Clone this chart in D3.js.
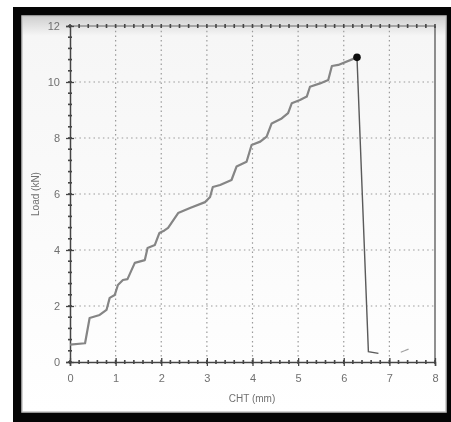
<!DOCTYPE html>
<html>
<head>
<meta charset="utf-8">
<script src="https://cdn.jsdelivr.net/npm/d3@7"></script>
<style>
  body { margin: 0; background: #fff; }
  svg { display: block; }
  text { font-family: "Liberation Sans Narrow", "Liberation Sans", Arial, sans-serif; fill: #707070; }
</style>
</head>
<body>
<div id="chart"></div>
<script>
// CHT (mm) vs Load (kN)
const cht  = [0, 0.33, 0.43, 0.65, 0.80, 0.87, 0.98, 1.05, 1.16, 1.26, 1.42, 1.64, 1.70, 1.86, 1.96, 2.07,
              2.15, 2.37, 2.63, 2.96, 3.07, 3.13, 3.29, 3.54, 3.65, 3.87, 3.98, 4.17, 4.31, 4.42, 4.64, 4.78,
              4.86, 5.04, 5.19, 5.26, 5.48, 5.66, 5.74, 5.88, 6.29];
const load = [0.62, 0.67, 1.57, 1.68, 1.86, 2.29, 2.39, 2.75, 2.93, 2.96, 3.54, 3.64, 4.07, 4.18, 4.61, 4.70,
              4.79, 5.32, 5.50, 5.71, 5.89, 6.25, 6.32, 6.50, 6.98, 7.15, 7.75, 7.87, 8.05, 8.52, 8.70, 8.89,
              9.24, 9.36, 9.48, 9.83, 9.95, 10.07, 10.57, 10.61, 10.88];
// failure drop after peak
const dropCht  = [6.29, 6.54, 6.76];
const dropLoad = [10.88, 0.37, 0.31];
// small stray trace near the bottom right
const tailCht  = [7.25, 7.33, 7.42];
const tailLoad = [0.35, 0.40, 0.46];

const xTicks = [0, 1, 2, 3, 4, 5, 6, 7, 8];
const yTicks = [0, 2, 4, 6, 8, 10, 12];

function init() {
    const width = 451, height = 422;

    const svg = d3.select("#chart").append("svg")
                  .attr("width", width)
                  .attr("height", height);

    const defs = svg.append("defs");
    defs.append("filter").attr("id", "soft")
        .append("feGaussianBlur").attr("stdDeviation", 0.45);
    const grad = defs.append("linearGradient").attr("id", "topfade")
                     .attr("x1", 0).attr("y1", 0).attr("x2", 0).attr("y2", 1);
    grad.append("stop").attr("offset", "0%").attr("stop-color", "#cfcfcf");
    grad.append("stop").attr("offset", "5%").attr("stop-color", "#f6f6f6");
    grad.append("stop").attr("offset", "100%").attr("stop-color", "#ffffff");

    // scanned black frame + panel
    svg.append("rect").attr("x", 13).attr("y", 7).attr("width", 438).attr("height", 415).attr("fill", "#050505");
    svg.append("rect").attr("x", 22).attr("y", 16).attr("width", 424).attr("height", 396)
       .attr("fill", "url(#topfade)").attr("stroke", "#c4c4c4").attr("stroke-width", 1.5);

    const x = d3.scaleLinear().domain([0, 8]).range([70, 435]);
    const y = d3.scaleLinear().domain([0, 12]).range([362, 26]);

    const g = svg.append("g").attr("filter", "url(#soft)");

    // dotted grid
    g.append("g").selectAll("line").data(xTicks.slice(1, -1)).join("line")
     .attr("x1", d => x(d)).attr("x2", d => x(d))
     .attr("y1", y(12)).attr("y2", y(0))
     .attr("stroke", "#9a9a9a").attr("stroke-width", 1.2).attr("stroke-dasharray", "1.5,3.2");
    g.append("g").selectAll("line").data(yTicks.slice(1, -1)).join("line")
     .attr("y1", d => y(d)).attr("y2", d => y(d))
     .attr("x1", x(0)).attr("x2", x(8))
     .attr("stroke", "#9a9a9a").attr("stroke-width", 1.2).attr("stroke-dasharray", "1.5,3.2");

    // frame lines
    g.append("line").attr("x1", x(8)).attr("x2", x(8)).attr("y1", y(12)).attr("y2", y(0))
     .attr("stroke", "#555").attr("stroke-width", 1.3);
    g.append("line").attr("x1", x(0)).attr("x2", x(8)).attr("y1", y(12)).attr("y2", y(12))
     .attr("stroke", "#666").attr("stroke-width", 1.2);

    // minor ticks
    const xMinor = d3.range(0, 8.001, 0.2);
    const yMinor = d3.range(0, 12.001, 0.4);
    [y(0), y(12)].forEach(py => {
        g.append("g").selectAll("line").data(xMinor).join("line")
         .attr("x1", d => x(d)).attr("x2", d => x(d))
         .attr("y1", py - 2).attr("y2", py + 2)
         .attr("stroke", "#444").attr("stroke-width", 1.6);
    });
    g.append("g").selectAll("line").data(yMinor).join("line")
     .attr("y1", d => y(d)).attr("y2", d => y(d))
     .attr("x1", x(0) - 2).attr("x2", x(0) + 2)
     .attr("stroke", "#444").attr("stroke-width", 1.6);

    // axes
    const xAxis = g.append("g").attr("transform", `translate(0,${y(0)})`)
                   .call(d3.axisBottom(x).tickValues(xTicks).tickSize(4).tickPadding(8));
    const yAxis = g.append("g").attr("transform", `translate(${x(0)},0)`)
                   .call(d3.axisLeft(y).tickValues(yTicks).tickSize(4).tickPadding(6));
    [xAxis, yAxis].forEach(a => {
        a.select(".domain").attr("stroke", "#444").attr("stroke-width", 1.5);
        a.selectAll(".tick line").attr("stroke", "#444").attr("stroke-width", 1.3);
        a.selectAll(".tick text").attr("font-size", 11).attr("fill", "#707070")
         .style("font-family", "'Liberation Sans Narrow', 'Liberation Sans', sans-serif");
    });
    xAxis.selectAll(".tick line").attr("y1", -4);
    yAxis.selectAll(".tick line").attr("x2", 4).attr("x1", -4);

    // axis titles
    g.append("text").attr("x", 252).attr("y", 402).attr("text-anchor", "middle")
     .attr("font-size", 10).text("CHT (mm)");
    g.append("text").attr("transform", `translate(39,${(y(0) + y(12)) / 2}) rotate(-90)`)
     .attr("text-anchor", "middle").attr("font-size", 10).text("Load (kN)");

    // curves
    const line = d3.line().x(d => x(d[0])).y(d => y(d[1]));
    g.append("path").datum(d3.zip(cht, load)).attr("d", line)
     .attr("fill", "none").attr("stroke", "#858585").attr("stroke-width", 2.2)
     .attr("stroke-linejoin", "round");
    g.append("path").datum(d3.zip(dropCht, dropLoad)).attr("d", line)
     .attr("fill", "none").attr("stroke", "#5a5a5a").attr("stroke-width", 1.4);
    g.append("path").datum(d3.zip(tailCht, tailLoad)).attr("d", line)
     .attr("fill", "none").attr("stroke", "#a0a0a0").attr("stroke-width", 1.2);

    // peak marker
    g.append("circle").attr("cx", x(cht[cht.length - 1])).attr("cy", y(load[load.length - 1]))
     .attr("r", 3.8).attr("fill", "#111");
}

window.onload = init;
</script>
</body>
</html>
